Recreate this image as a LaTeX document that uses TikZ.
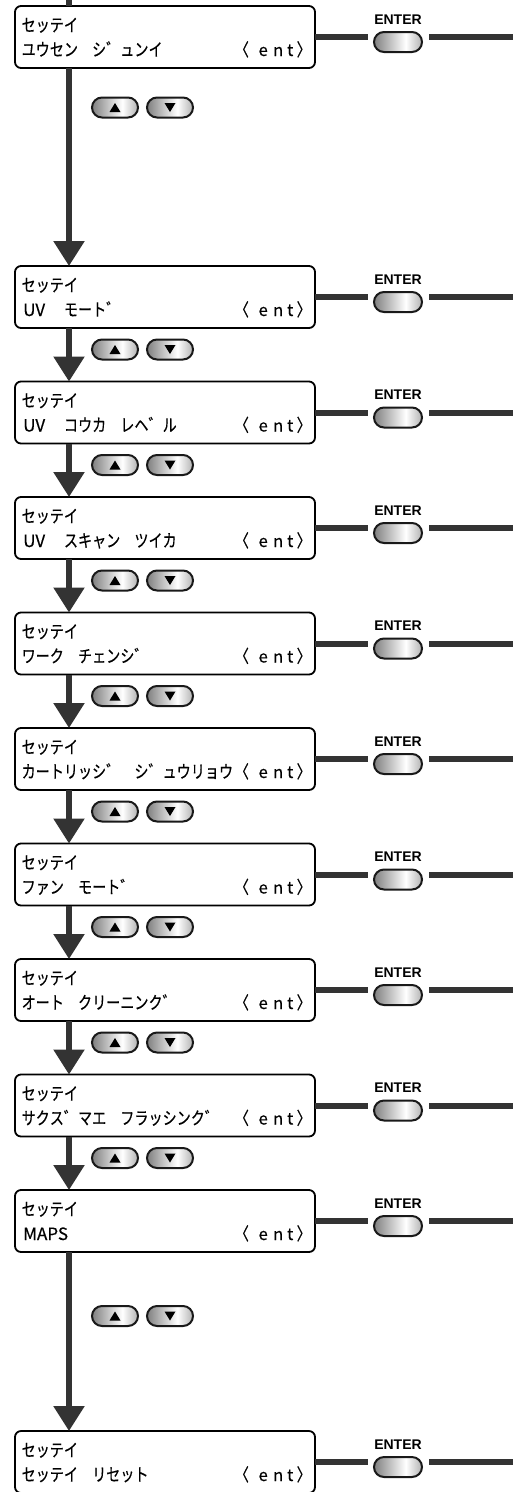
\documentclass[tikz,border=0pt]{standalone}
\usepackage{fontspec}
\usetikzlibrary{arrows.meta,calc}
\newfontfamily\lcdf[FakeStretch=0.8,FakeBold=0.4]{Noto Sans CJK JP}
\newfontfamily\latf[FakeBold=0.3]{Noto Sans CJK JP}
\newfontfamily\entf{Liberation Sans}
\newcommand\La[1]{{\latf\fontsize{16.5pt}{16.5pt}\selectfont #1}}
\newcommand\LaG[1]{\hspace{1.5pt}{\latf\fontsize{17pt}{17pt}\selectfont #1}}
\makeatletter
\def\lcdcells#1{\expandafter\lcd@ii\expandafter{#1}}
\def\lcd@ii#1{\@tfor\lc@t:=#1\do{\makebox[14.1pt][l]{\lc@t}}}
\makeatother
\newcommand\entt{\rlap{〈}\hspace{28.3pt}\makebox[0pt][c]{\La{e}}\hspace{15pt}\makebox[0pt][c]{\La{n}}\hspace{12pt}\makebox[0pt][c]{\La{t}}\hspace{6.5pt}\rlap{〉}\hspace{8pt}}
\pgfdeclarehorizontalshading{btnshade}{100bp}{color(0bp)=(black!50); color(25bp)=(black!50); color(58bp)=(white); color(75bp)=(black!30); color(100bp)=(black!30)}
\colorlet{linecol}{black!80}
\begin{document}
\begin{tikzpicture}[x=1pt,y=-1pt,
  lcdbox/.style={draw=black, line width=1.8pt, rounded corners=6pt, fill=white, minimum width=300pt, minimum height=62pt, inner sep=0pt, outer sep=0pt},
  lcdtxt/.style={anchor=base west, inner sep=0pt, font={\lcdf\fontsize{17.5pt}{17.5pt}\selectfont}},
  pill/.style={draw=black!90, line width=2pt, rounded corners=10pt, shading=btnshade, minimum height=20pt, inner sep=0pt},
  arrbtn/.style={pill, minimum width=46pt},
  enterbtn/.style={pill, minimum width=48pt},
  enterlbl/.style={anchor=base, inner sep=0pt, font={\entf\bfseries\fontsize{14pt}{14pt}\selectfont}},
  hline/.style={draw=linecol, line width=6pt},
  vline/.style={draw=linecol, line width=5.5pt},
  varrow/.style={vline, -{Triangle[width=30pt,length=25pt]}},
  tri/.style={fill=black}
  ]
\fill[white] (0,0) rectangle (513,1492);
\useasboundingbox (0,0) rectangle (513,1492);
\coordinate (spine) at (69,0);
% boxes
\foreach \i/\t/\s in {1/5/{ユウセン~シ゛ュンイ}, 2/265/{{\LaG{UV}}~~モート゛}, 3/380.5/{{\LaG{UV}}~~コウカ~レヘ゛ル}, 4/496/{{\LaG{UV}}~~スキャン~ツイカ}, 5/611.5/{ワーク~チェンシ゛}, 6/727/{カートリッシ゛~シ゛ュウリョウ}, 7/842.5/{ファン~モート゛}, 8/958/{オート~クリーニンク゛}, 9/1073.5/{サクス゛マエ~フラッシンク゛}, 10/1189/{{\LaG{MAPS}}}, 11/1430/{セッテイ~リセット}}{
  \node[lcdbox] (b\i) at (165,\t+32) {};
  \node[lcdtxt] (b\i l1) at (21.5,\t+26.5) {\lcdcells{セッテイ}};
  \node[lcdtxt] (b\i l2) at (21.5,\t+51) {\lcdcells{\s}};
  \node[lcdtxt] (b\i e) at (234.7,\t+51) {\entt};
  \node[enterbtn] (e\i) at (398,\t+37) {};
  \node[enterlbl] (el\i) at (398,\t+19) {ENTER};
  \coordinate (r\i) at (513,\t+32);
  \draw[hline, shorten >=5pt] (b\i.east) -- (b\i.east -| e\i.west);
  \draw[hline, shorten <=6pt] (b\i.east -| e\i.east) -- (r\i);
}
% spine
\draw[vline] (spine) -- (b1.north -| spine);
\foreach \i/\j in {1/2,2/3,3/4,4/5,5/6,6/7,7/8,8/9,9/10,10/11}{
  \draw[varrow] (b\i.south -| spine) -- (b\j.north -| spine);
}
% up/down buttons
\foreach \j/\c in {1/107.5, 2/349.5, 3/465, 4/580.5, 5/696, 6/811.5, 7/927, 8/1042.5, 9/1158, 10/1316}{
  \node[arrbtn] (u\j) at (115,\c) {};
  \node[arrbtn] (d\j) at (170,\c) {};
  \fill[tri, shift={(u\j.center)}] (-5.5,4.5) -- (5.5,4.5) -- (0,-4.5) -- cycle;
  \fill[tri, shift={(d\j.center)}] (-5.5,-4.5) -- (5.5,-4.5) -- (0,4.5) -- cycle;
}
\end{tikzpicture}
\end{document}
